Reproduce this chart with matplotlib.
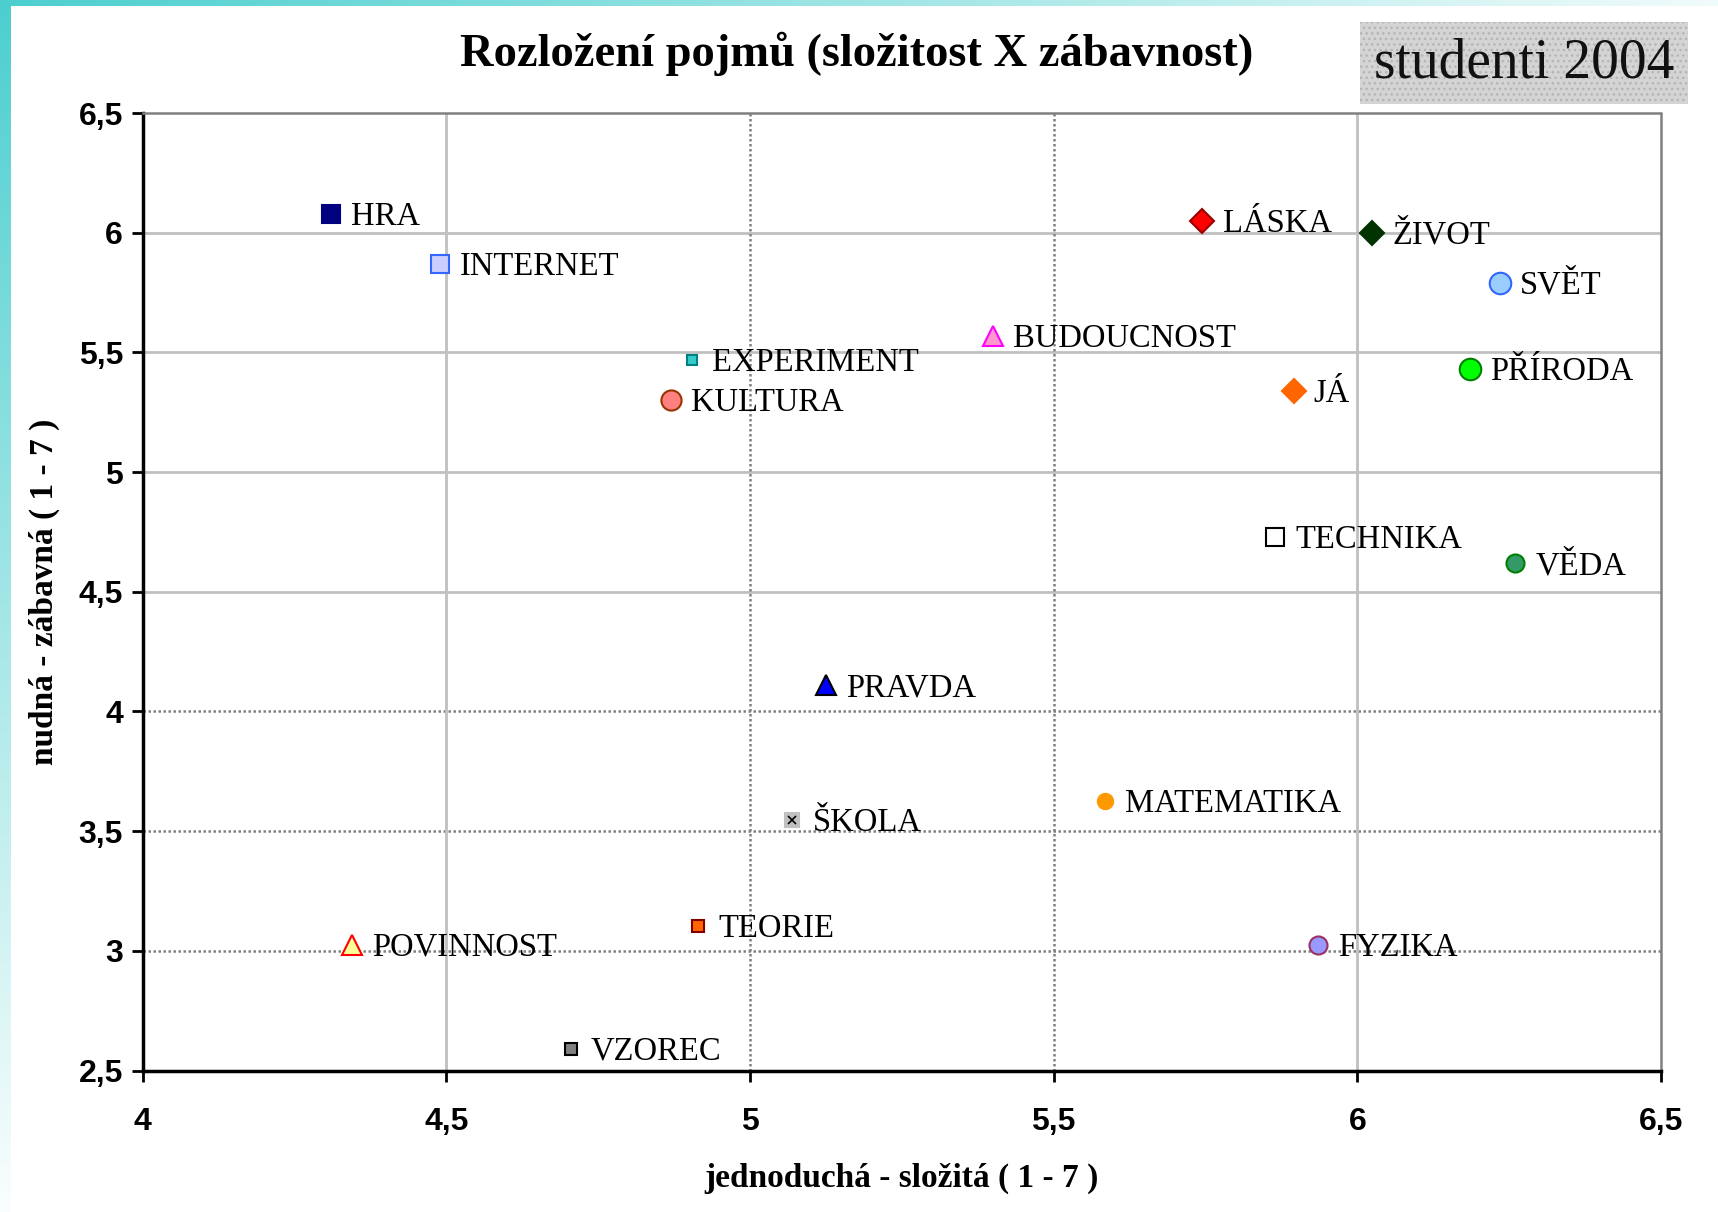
import matplotlib
matplotlib.use("Agg")
import matplotlib.pyplot as plt
import numpy as np
from matplotlib.patches import Rectangle

# ---------------- data ----------------
names = ["HRA", "INTERNET", "EXPERIMENT", "KULTURA", "BUDOUCNOST", "LÁSKA",
         "ŽIVOT", "SVĚT", "PŘÍRODA", "JÁ", "TECHNIKA", "VĚDA", "PRAVDA",
         "MATEMATIKA", "ŠKOLA", "TEORIE", "POVINNOST", "FYZIKA", "VZOREC"]
slozitost = [4.31, 4.49, 4.905, 4.87, 5.40, 5.745, 6.025, 6.235, 6.185, 5.895,
             5.865, 6.26, 5.125, 5.585, 5.07, 4.915, 4.345, 5.935, 4.705]
zabavnost = [6.08, 5.87, 5.47, 5.30, 5.57, 6.05, 6.00, 5.79, 5.43, 5.34,
             4.73, 4.62, 4.11, 3.625, 3.545, 3.105, 3.025, 3.025, 2.59]
x_ticks = [4, 4.5, 5, 5.5, 6, 6.5]
y_ticks = [2.5, 3, 3.5, 4, 4.5, 5, 5.5, 6, 6.5]
tick_fmt = lambda v: f"{v:g}".replace(".", ",")

title = "Rozložení pojmů (složitost X zábavnost)"
x_label = "jednoduchá - složitá ( 1 - 7 )"
y_label = "nudná - zábavná ( 1 - 7 )"
badge = "studenti 2004"

# ---------------- styles ----------------
markers = ["s", "s", "s", "o", "^", "D", "D", "o", "o", "D", "s", "o", "^",
           "o", "s", "s", "^", "o", "s"]
faces = ["#000080", "#ccccff", "#33cccc", "#ff8080", "#ff99cc", "#ff0000",
         "#003300", "#99ccff", "#00ff00", "#ff6600", "#ffffff", "#339966",
         "#0000ff", "#ff9900", "#c0c0c0", "#ff6600", "#ffff99", "#9999ff",
         "#808080"]
edges = ["#000080", "#3366ff", "#008080", "#993300", "#ff00ff", "#990000",
         "#003300", "#3366ff", "#008000", "#ff6600", "#000000", "#008000",
         "#000000", "#ff9900", "#c0c0c0", "#800000", "#ff0000", "#993366",
         "#000000"]
msizes = [13, 13, 7.5, 14.5, 15, 12.5, 12.5, 15.5, 15.5, 12.5, 13, 13, 15,
          11, 10, 8.5, 15, 13, 8.5]

W, H = 1718, 1212
fig = plt.figure(figsize=(W / 100, H / 100), dpi=100)

# background gradient frame
bg = fig.add_axes([0, 0, 1, 1], zorder=-10)
xx, yy = np.meshgrid(np.linspace(0, 1, 400), np.linspace(0, 1, 300))
a = (1 - 0.92 * xx) * (1 - 0.97 * yy)
a = np.clip(a, 0, 1)
teal = np.array([0.30, 0.81, 0.81])
img = np.ones((300, 400, 3)) * (1 - a[..., None]) + teal * a[..., None]
bg.imshow(img, extent=[0, W, H, 0], aspect="auto", interpolation="bilinear")
bg.add_patch(Rectangle((11, 6), W - 11, H - 6, facecolor="white", edgecolor="none"))
bg.set_xlim(0, W)
bg.set_ylim(H, 0)
bg.axis("off")

# main axes
x0, x1 = 142.5, 1661
y0, y1 = 113, 1070.5
ax = fig.add_axes([x0 / W, 1 - y1 / H, (x1 - x0) / W, (y1 - y0) / H])
ax.set_xlim(4, 6.5)
ax.set_ylim(2.5, 6.5)
ax.set_facecolor("white")

solid = dict(color="#c0c0c0", lw=2.0, zorder=0.5)
dotted = dict(color="#808080", lw=1.8, ls=(0, (1, 1)), zorder=0.5)
for v in y_ticks[1:-1]:
    ax.axhline(v, **(solid if v >= 4.5 else dotted))
for v in x_ticks[1:-1]:
    ax.axvline(v, **(solid if v in (4.5, 6) else dotted))

for side in ("top", "right"):
    ax.spines[side].set_color("#808080")
    ax.spines[side].set_linestyle((0, (1, 1)))
    ax.spines[side].set_linewidth(1.8)
for side in ("left", "bottom"):
    ax.spines[side].set_color("black")
    ax.spines[side].set_linewidth(2.5)

ax.set_xticks(x_ticks)
ax.set_yticks(y_ticks)
ax.set_xticklabels([tick_fmt(v) for v in x_ticks])
ax.set_yticklabels([tick_fmt(v) for v in y_ticks])
ax.tick_params(axis="both", direction="out", length=8, width=2, color="black")
ax.tick_params(axis="x", pad=18)
ax.tick_params(axis="y", pad=6)
for lab in ax.get_xticklabels() + ax.get_yticklabels():
    lab.set_fontfamily("Liberation Sans")
    lab.set_fontweight("bold")
    lab.set_fontsize(23)

for i, n in enumerate(names):
    ax.plot(slozitost[i], zabavnost[i], marker=markers[i], ms=msizes[i],
            mfc=faces[i], mec=edges[i], mew=1.5, ls="none", zorder=3,
            clip_on=False)
    if n == "ŠKOLA":
        ax.plot(slozitost[i], zabavnost[i], marker="x", ms=5.5, mec="black",
                mew=1.2, ls="none", zorder=4)
    ax.annotate(n, (slozitost[i], zabavnost[i]), xytext=(14.5, -2),
                textcoords="offset points", va="center", ha="left",
                fontfamily="Liberation Serif", fontsize=23.5, color="black",
                zorder=5)

fig.text(857 / W, 1 - 54 / H, title, ha="center", va="center",
         fontfamily="Liberation Serif", fontweight="bold", fontsize=33.5)
fig.text(((x0 + x1) / 2) / W, 1 - 1178 / H, x_label, ha="center", va="center",
         fontfamily="Liberation Serif", fontweight="bold", fontsize=24)
fig.text(44 / W, 1 - ((y0 + y1) / 2) / H, y_label, ha="center", va="center",
         rotation=90, fontfamily="Liberation Serif", fontweight="bold",
         fontsize=24)

# badge
plt.rcParams["hatch.linewidth"] = 1.0
bg.add_patch(Rectangle((1360, 22), 328, 82, facecolor="#d4d4d4",
                       edgecolor="#b4b4b4", hatch="...", lw=0, zorder=2))
bg.text(1524, 64, badge, ha="center", va="center",
        fontfamily="Liberation Serif", fontsize=40, color="#111111", zorder=3)

fig.savefig("out.png", dpi=100)
